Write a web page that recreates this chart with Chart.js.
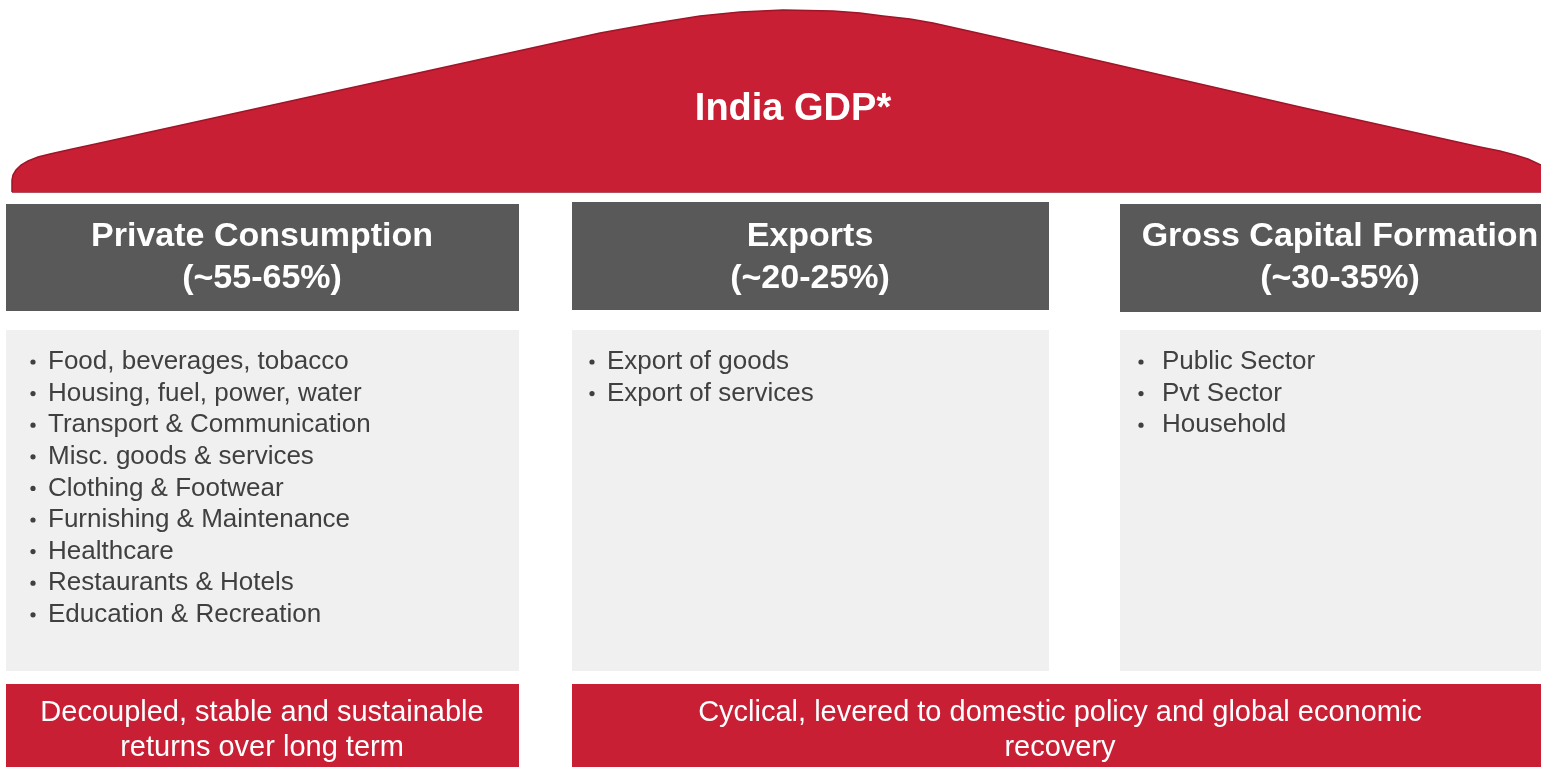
<!DOCTYPE html>
<html>
<head>
<meta charset="utf-8">
<title>India GDP</title>
<script src="https://cdn.jsdelivr.net/npm/chart.js@4/dist/chart.umd.min.js"></script>
<style>
  html, body { margin: 0; padding: 0; background: #fff; overflow: hidden; }
  canvas { display: block; }
</style>
</head>
<body>
<canvas id="gdp" width="1541" height="767"></canvas>
<script>
// content of the diagram
const title = 'India GDP*';
const pillars = ['Private Consumption', 'Exports', 'Gross Capital Formation'];
const shareLow = [55, 20, 30];
const shareHigh = [65, 25, 35];
const components = [
    ['Food, beverages, tobacco', 'Housing, fuel, power, water', 'Transport & Communication',
     'Misc. goods & services', 'Clothing & Footwear', 'Furnishing & Maintenance',
     'Healthcare', 'Restaurants & Hotels', 'Education & Recreation'],
    ['Export of goods', 'Export of services'],
    ['Public Sector', 'Pvt Sector', 'Household']
];
const footers = [
    ['Decoupled, stable and sustainable', 'returns over long term'],
    ['Cyclical, levered to domestic policy and global economic', 'recovery']
];

// layout (in page units, mapped through the chart scales)
const W = 1541, H = 767;
const RED = '#C81F35', DARK = '#595959', LIGHT = '#F0F0F0', EDGE = '#9E1628';
const cols = [[6, 519], [572, 1049], [1120, 1541]];
const headTop = [204, 202, 204], headBottom = [311, 310, 312];
const headCenter = [262, 810, 1340];
const listTop = 330, listBottom = 671;
const bulletX = [33, 592, 1141], textX = [48, 607, 1162];
const footSpan = [[6, 519], [572, 1541]];
const roofBase = 192;
const roofOutline = [
    {x: 12, y: 192}, {x: 12, y: 180}, {x: 13, y: 175}, {x: 16, y: 170}, {x: 21, y: 165},
    {x: 28, y: 161}, {x: 38, y: 157}, {x: 50, y: 154}, {x: 70, y: 149.5}, {x: 100, y: 143},
    {x: 400, y: 77}, {x: 600, y: 33}, {x: 650, y: 24}, {x: 700, y: 16}, {x: 740, y: 12},
    {x: 783, y: 10}, {x: 833, y: 11}, {x: 860, y: 13}, {x: 883, y: 16}, {x: 910, y: 19},
    {x: 933, y: 23}, {x: 1000, y: 38}, {x: 1300, y: 107}, {x: 1480, y: 147}, {x: 1500, y: 151},
    {x: 1515, y: 155}, {x: 1528, y: 159}, {x: 1541, y: 165}
];

function box(x0, x1, y0, y1, color) {
    return {
        data: [{x: x0, y: y0}, {x: x1, y: y0}],
        fill: {value: y1},
        backgroundColor: color,
        borderWidth: 0,
        pointRadius: 0,
        tension: 0
    };
}

const datasets = [{
    data: roofOutline,
    fill: {value: roofBase},
    backgroundColor: RED,
    borderColor: EDGE,
    borderWidth: 1.5,
    pointRadius: 0,
    tension: 0
}, {
    data: [{x: 12, y: roofBase}, {x: W, y: roofBase}],
    fill: false,
    borderColor: EDGE,
    borderWidth: 1.5,
    pointRadius: 0
}];
cols.forEach((c, i) => {
    datasets.push(box(c[0], c[1], headTop[i], headBottom[i], DARK));
    datasets.push(box(c[0], c[1], listTop, listBottom, LIGHT));
});
footSpan.forEach(c => datasets.push(box(c[0], c[1], 684, H, RED)));

const textPlugin = {
    id: 'diagramText',
    afterDatasetsDraw(chart) {
        const ctx = chart.ctx;
        const px = v => chart.scales.x.getPixelForValue(v);
        const py = v => chart.scales.y.getPixelForValue(v);
        ctx.save();
        ctx.textBaseline = 'middle';

        // title
        ctx.fillStyle = '#fff';
        ctx.textAlign = 'center';
        ctx.font = 'bold 38px "Liberation Sans", Arial, sans-serif';
        ctx.fillText(title, px(793), py(110));

        // pillar headers
        ctx.font = 'bold 34px "Liberation Sans", Arial, sans-serif';
        pillars.forEach((name, i) => {
            ctx.fillText(name, px(headCenter[i]), py(237));
            ctx.fillText('(~' + shareLow[i] + '-' + shareHigh[i] + '%)', px(headCenter[i]), py(279));
        });

        // components
        ctx.fillStyle = '#404040';
        ctx.textAlign = 'left';
        ctx.font = '26px "Liberation Sans", Arial, sans-serif';
        components.forEach((list, i) => {
            list.forEach((item, j) => {
                const y = py(362 + j * 31.6);
                ctx.fillText(item, px(textX[i]), y);
                ctx.beginPath();
                ctx.arc(px(bulletX[i]), y, 2.6, 0, Math.PI * 2);
                ctx.fill();
            });
        });

        // footers
        ctx.fillStyle = '#fff';
        ctx.textAlign = 'center';
        ctx.font = '29px "Liberation Sans", Arial, sans-serif';
        footers.forEach((lines, i) => {
            const cx = i === 0 ? 262 : 1060;
            lines.forEach((line, j) => ctx.fillText(line, px(cx), py(713 + j * 35)));
        });
        ctx.restore();
    }
};

new Chart(document.getElementById('gdp'), {
    type: 'line',
    data: {datasets: datasets},
    options: {
        responsive: false,
        animation: false,
        devicePixelRatio: 1,
        layout: {padding: 0},
        plugins: {legend: {display: false}, tooltip: {enabled: false}},
        scales: {
            x: {type: 'linear', min: 0, max: W, display: false},
            y: {type: 'linear', min: 0, max: H, reverse: true, display: false}
        }
    },
    plugins: [textPlugin]
});
</script>
</body>
</html>
